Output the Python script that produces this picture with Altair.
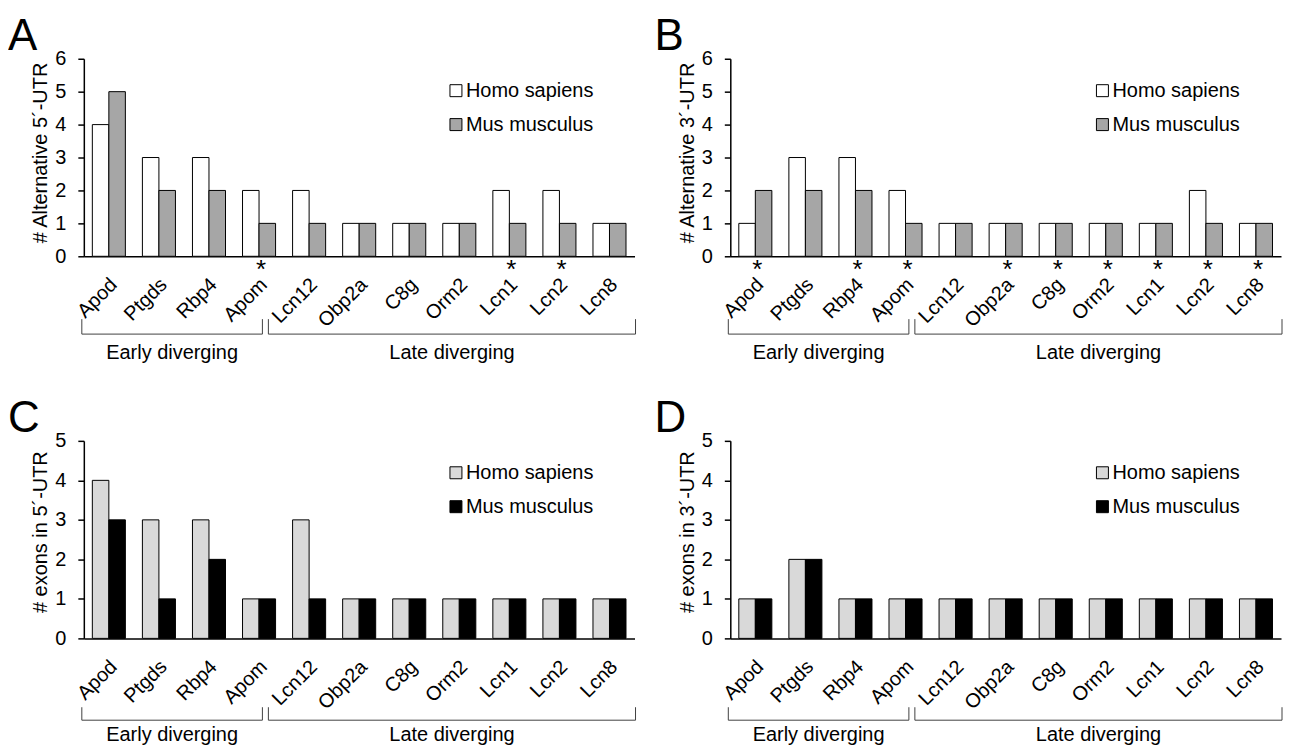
import altair as alt
import pandas as pd

categories = ["Apod", "Ptgds", "Rbp4", "Apom", "Lcn12", "Obp2a", "C8g", "Orm2", "Lcn1", "Lcn2", "Lcn8"]
species = ["Homo sapiens", "Mus musculus"]

a_homo = [4, 3, 3, 2, 2, 1, 1, 1, 2, 2, 1]
a_mus = [5, 2, 2, 1, 1, 1, 1, 1, 1, 1, 1]
a_star = ["Apom", "Lcn1", "Lcn2"]

b_homo = [1, 3, 3, 2, 1, 1, 1, 1, 1, 2, 1]
b_mus = [2, 2, 2, 1, 1, 1, 1, 1, 1, 1, 1]
b_star = ["Apod", "Rbp4", "Apom", "Obp2a", "C8g", "Orm2", "Lcn1", "Lcn2", "Lcn8"]

c_homo = [4, 3, 3, 1, 3, 1, 1, 1, 1, 1, 1]
c_mus = [3, 1, 2, 1, 1, 1, 1, 1, 1, 1, 1]

d_homo = [1, 2, 1, 1, 1, 1, 1, 1, 1, 1, 1]
d_mus = [1, 2, 1, 1, 1, 1, 1, 1, 1, 1, 1]

groups = ["Early diverging", "Late diverging"]

W = 552
H = 198
FONT = "Liberation Sans"


def panel(letter, homo, mus, stars, ytitle, ymax, colors, br_top, br_bot, title_shift):
    rows = []
    for c, h, m in zip(categories, homo, mus):
        rows.append({"gene": c, "species": species[0], "value": h})
        rows.append({"gene": c, "species": species[1], "value": m})
    df = pd.DataFrame(rows)

    xscale = alt.Scale(domain=categories, paddingInner=0.34, paddingOuter=0.17)

    bars = alt.Chart(df).mark_bar(stroke="black", strokeWidth=1).encode(
        x=alt.X("gene:N", scale=xscale, sort=categories,
                axis=alt.Axis(title=None, labelAngle=-45, labelAlign="right",
                              labelBaseline="middle", labelFontSize=20, labelColor="black",
                              labelPadding=25, labelOffset=5, ticks=False, domainColor="black",
                              domainWidth=1.5, labelFont=FONT)),
        xOffset=alt.XOffset("species:N", scale=alt.Scale(domain=species, paddingInner=0, paddingOuter=0)),
        y=alt.Y("value:Q", scale=alt.Scale(domain=[0, ymax], nice=False),
                axis=alt.Axis(title=ytitle, values=list(range(ymax + 1)), grid=False,
                              tickColor="black", tickSize=6, tickWidth=1.5,
                              domainColor="black", domainWidth=1.5,
                              labelFontSize=20, labelColor="black", labelPadding=12,
                              labelFont=FONT, titleFont=FONT,
                              titleFontSize=20, titleFontWeight="normal", titleColor="black",
                              titleX=-43, titleY=H / 2 - title_shift, titleAngle=270,
                              titleAlign="center", titleBaseline="middle")),
        color=alt.Color("species:N", scale=alt.Scale(domain=species, range=colors),
                        legend=alt.Legend(title=None, orient="none", legendX=363, legendY=22,
                                          symbolType="square", symbolSize=144,
                                          symbolStrokeColor="black", symbolStrokeWidth=1,
                                          symbolOpacity=1, labelFontSize=20, labelColor="black",
                                          labelFont=FONT, rowPadding=14, padding=0,
                                          labelOffset=0)),
    )

    layers = [bars]

    if stars:
        sdf = pd.DataFrame({"gene": stars, "mark": ["*"] * len(stars)})
        star_layer = alt.Chart(sdf).mark_text(fontSize=26, font=FONT, color="black",
                                              baseline="alphabetic", align="center", dx=2).encode(
            x=alt.X("gene:N", scale=xscale, sort=categories),
            y=alt.value(H + 22),
            text="mark:N",
        )
        layers.append(star_layer)

    # brackets
    bdf = pd.DataFrame({"group": groups, "x0": [-2, 185], "x1": [179, 553]})
    vl = alt.Chart(bdf).mark_rule(color="#404040", strokeWidth=1).encode(
        x=alt.X("x0:Q", scale=None), y=alt.value(H + br_top), y2=alt.value(H + br_bot))
    vr = alt.Chart(bdf).mark_rule(color="#404040", strokeWidth=1).encode(
        x=alt.X("x1:Q", scale=None), y=alt.value(H + br_top), y2=alt.value(H + br_bot))
    hz = alt.Chart(bdf).mark_rule(color="#404040", strokeWidth=1).encode(
        x=alt.X("x0:Q", scale=None), x2="x1:Q", y=alt.value(H + br_bot))
    gtext = alt.Chart(bdf).transform_calculate(xc="(datum.x0 + datum.x1) / 2").mark_text(
        fontSize=20, font=FONT, color="black", baseline="middle", align="center").encode(
        x=alt.X("xc:Q", scale=None), y=alt.value(H + 97), text="group:N")
    layers += [vl, vr, hz, gtext]

    ldf = pd.DataFrame({"letter": [letter]})
    let = alt.Chart(ldf).mark_text(fontSize=44, font=FONT, color="black",
                                   baseline="alphabetic", align="left").encode(
        x=alt.value(-76), y=alt.value(-9), text="letter:N")
    layers.append(let)

    return alt.layer(*layers).properties(width=W, height=H)


grey_pair = ["#ffffff", "#a6a6a6"]
dark_pair = ["#d9d9d9", "#000000"]

pA = panel("A", a_homo, a_mus, a_star, "# Alternative 5\u00b4-UTR", 6, grey_pair, 63, 78, 5)
pB = panel("B", b_homo, b_mus, b_star, "# Alternative 3\u00b4-UTR", 6, grey_pair, 63, 78, 5)
pC = panel("C", c_homo, c_mus, None, "# exons in 5\u00b4-UTR", 5, dark_pair, 69, 82, 8)
pD = panel("D", d_homo, d_mus, None, "# exons in 3\u00b4-UTR", 5, dark_pair, 69, 82, 8)

chart = alt.concat(pA, pB, pC, pD, columns=2, spacing={"row": 185, "column": 96},
                   bounds="flush").resolve_scale(color="independent").resolve_legend(
    color="independent").properties(
    padding={"top": 6, "left": 0, "right": 0, "bottom": 0}).configure(
    font=FONT).configure_view(stroke=None)

chart.save("out.html", embed_options={"renderer": "svg", "actions": False})
